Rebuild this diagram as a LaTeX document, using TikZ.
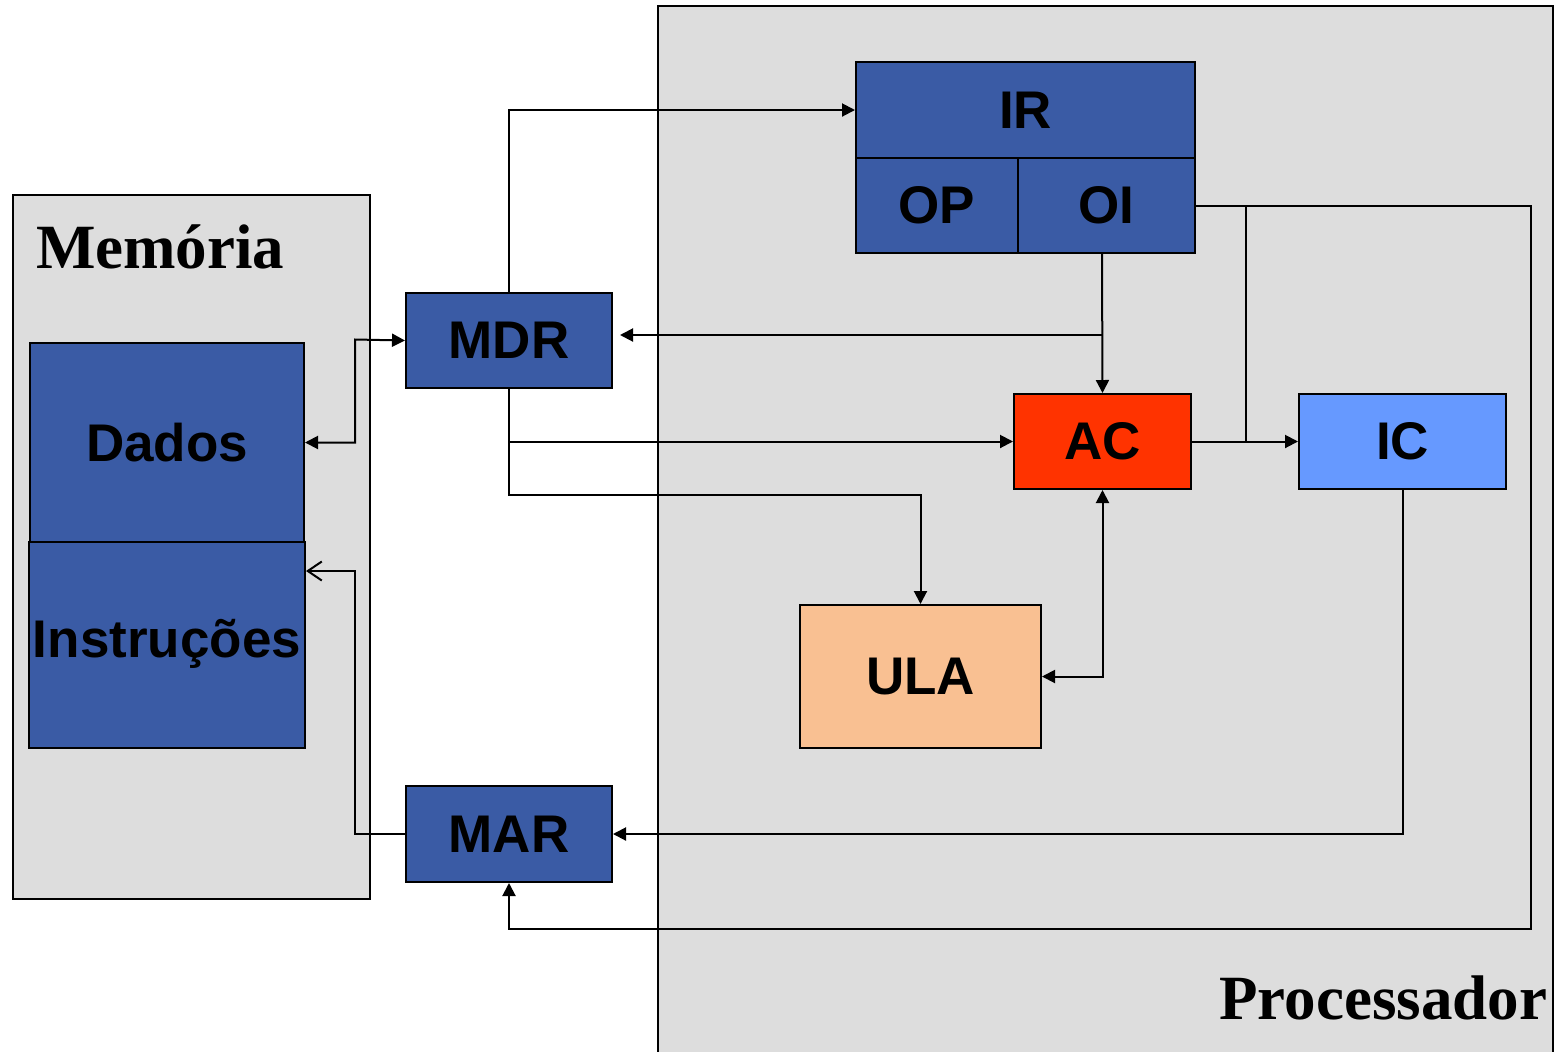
\documentclass[tikz,border=0pt]{standalone}
\usepackage{fontspec}
\setmainfont{Liberation Serif}
\setsansfont{Liberation Sans}
\usetikzlibrary{arrows.meta}

\definecolor{regblue}{RGB}{58,91,165}
\definecolor{areagray}{RGB}{221,221,221}
\definecolor{acred}{RGB}{255,51,0}
\definecolor{iclight}{RGB}{102,153,255}
\definecolor{ulapeach}{RGB}{249,192,146}

\begin{document}
\begin{tikzpicture}[x=0.5pt,y=-0.5pt,line width=1pt,
  >={Triangle[length=6.5pt,width=6.5pt]},
  area/.style={draw,fill=areagray},
  lbl/.style={font=\bfseries\fontsize{31.5}{36}\selectfont,inner sep=0pt},
  b/.style={draw,fill=regblue,anchor=north west,inner sep=0pt,font=\sffamily\bfseries\fontsize{26.5}{30}\selectfont}]
\useasboundingbox (0,0) rectangle (1560,1051);
\draw[area] (13,195) rectangle (370,899);
\draw[area] (658,6) rectangle (1553,1060);
\node[lbl,anchor=base west] (mem) at (35,268) {Memória};
\node[lbl,anchor=base east] (proc) at (1548,1019) {Processador};
\node[b,minimum width=137pt,minimum height=99.5pt] (dados) at (29,342) {Dados};
\node[b,minimum width=138pt,minimum height=103pt,text depth=5pt,text height=17pt] (ins) at (28,541) {Instruções};
\node[b,minimum width=103pt,minimum height=47.5pt] (mdr) at (405,292) {MDR};
\node[b,minimum width=103pt,minimum height=48pt] (mar) at (405,785) {MAR};
\node[b,minimum width=169.5pt,minimum height=48pt] (ir) at (855,61) {IR};
\node[b,minimum width=81pt,minimum height=47.5pt] (op) at (855,157) {OP};
\node[b,minimum width=88.5pt,minimum height=47.5pt] (oi) at (1017,157) {OI};
\node[b,fill=acred,minimum width=88.5pt,minimum height=47.5pt] (ac) at (1013,393) {AC};
\node[b,fill=iclight,minimum width=103.5pt,minimum height=47.5pt] (ic) at (1298,393) {IC};
\node[b,fill=ulapeach,minimum width=120.5pt,minimum height=71.5pt] (ula) at (799,604) {ULA};
\coordinate (j1) at (1102,335);
\coordinate (j2) at (509,495);
\coordinate (j3) at (1246,441);
\coordinate (j4) at (1531,929);
\coordinate (j5) at (355,571);
\coordinate (j6) at (355,339.5);
\draw[->] (mdr.north) |- (ir.west);
\draw[->] (oi.south -| j1) -- (ac.north);
\draw[->,shorten >=3.5pt] (j1) -- (mdr.east |- j1);
\draw[->] (mdr.south) |- (ac.west);
\draw[->] (mdr.south) -- (j2) -| (ula.north);
\draw[<->] (ac.south) |- (ula.east);
\draw[->] (ac.east) -- (ic.west);
\draw (oi.east) -| (j3);
\draw[->] (oi.east) -| (j4) -| (mar.south);
\draw[->] (ic.south) |- (mar.east);
\draw[-{Straight Barb[length=7pt,width=9.5pt]}] (mar.west) -| (j5) -- (ins.east |- j5);
\draw[<->] (dados.east) -| (j6) -- (mdr.west);
\end{tikzpicture}
\end{document}
